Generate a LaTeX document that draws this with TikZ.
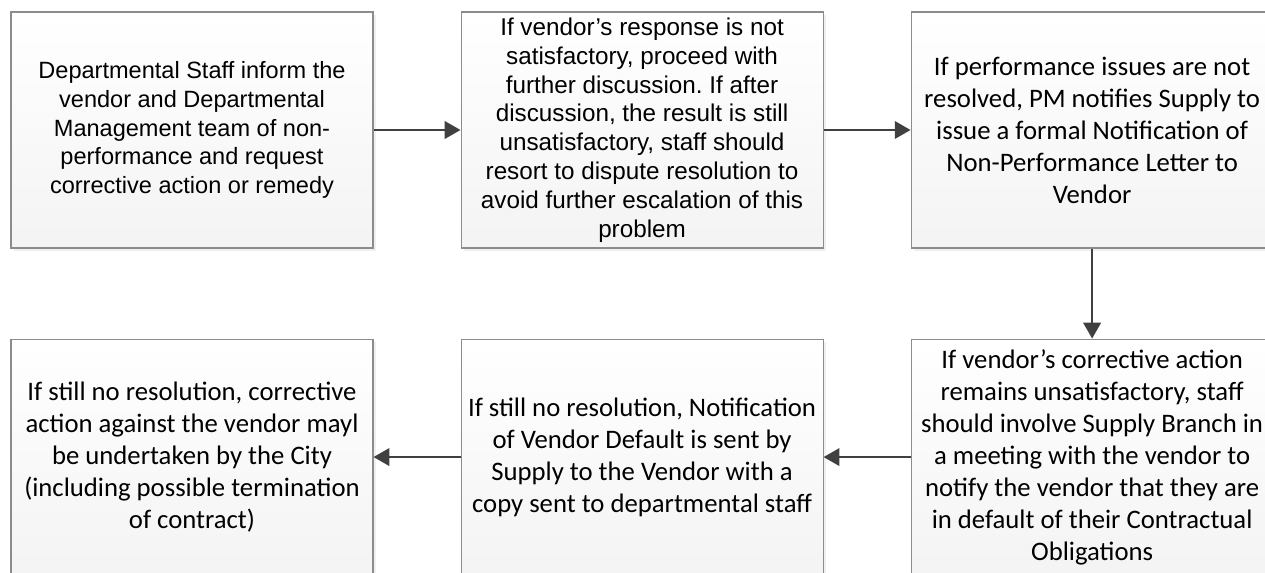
\documentclass[tikz,border=0pt]{standalone}
\usepackage{fontspec}
\setmainfont{Carlito}
\newfontfamily\arialfont{Liberation Sans}
\usetikzlibrary{arrows.meta,positioning,shadows}
\frenchspacing

\begin{document}
\begin{tikzpicture}[auto, node distance=1.74cm, >={Triangle[length=9pt,width=10pt]}]
        \tikzset{box/.style={draw=gray!90, line width=0.6pt, top color=white, bottom color=gray!9,
                drop shadow={shadow xshift=1.5pt, shadow yshift=-1.5pt, opacity=0.12},
                rectangle, minimum height=4.72cm, minimum width=7.24cm, inner sep=1pt, align=center,
                font=\fontsize{15.2}{18.2}\selectfont},
            arbox/.style={box, font=\arialfont\fontsize{13.4}{16.4}\selectfont},
            flow/.style={->, draw=black!75, line width=1.1pt}}
        \useasboundingbox (0,0) rectangle (25.3,-11.46);

        \node [arbox] (inform) at (3.84,-2.6) {Departmental Staff inform the\\vendor and Departmental\\Management team of non-\\performance and request\\corrective action or remedy};
        \node [arbox, right=of inform, font=\arialfont\fontsize{13.8}{16.4}\selectfont] (discuss) {If vendor’s response is not\\satisfactory, proceed with\\further discussion. If after\\discussion, the result is still\\unsatisfactory, staff should\\resort to dispute resolution to\\avoid further escalation of this\\problem};
        \node [box, right=of discuss] (letter) {If performance issues are not\\resolved, PM notifies Supply to\\issue a formal Notification of\\Non-Performance Letter to\\Vendor};
        \node [box, below=1.8cm of letter] (meeting) {If vendor’s corrective action\\remains unsatisfactory, staff\\should involve Supply Branch in\\a meeting with the vendor to\\notify the vendor that they are\\in default of their Contractual\\Obligations};
        \node [box, left=of meeting] (default) {If still no resolution, Notification\\of Vendor Default is sent by\\Supply to the Vendor with a\\copy sent to departmental staff};
        \node [box, left=of default] (action) {If still no resolution, corrective\\action against the vendor mayl\\be undertaken by the City\\(including possible termination\\of contract)};

        \draw [flow] (inform) -- (discuss);
        \draw [flow] (discuss) -- (letter);
        \draw [flow] (letter) -- (meeting);
        \draw [flow] (meeting) -- (default);
        \draw [flow] (default) -- (action);
    \end{tikzpicture}
\end{document}
